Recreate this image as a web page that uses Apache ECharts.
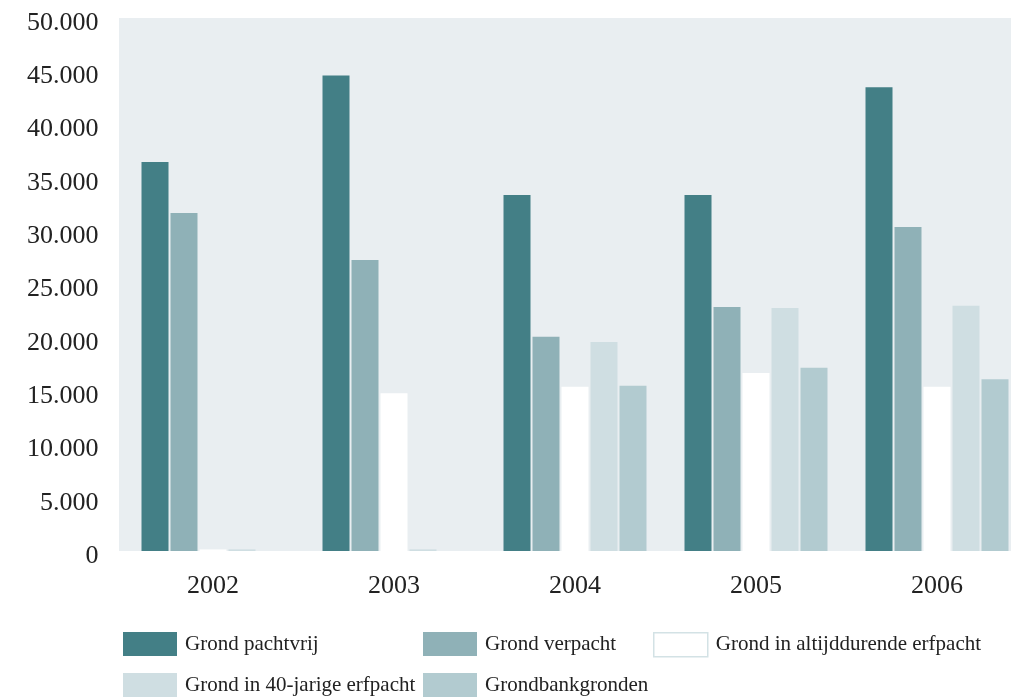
<!DOCTYPE html>
<html>
<head>
<meta charset="utf-8">
<script src="https://cdn.jsdelivr.net/npm/echarts@6/dist/echarts.min.js"></script>
<style>
  html, body { margin: 0; padding: 0; background: #ffffff; }
  #chart { width: 1011px; height: 698px; }
</style>
</head>
<body>
<div id="chart"></div>
<script>
// Jaren en grondcategorieën (hectare)
const years = ['2002', '2003', '2004', '2005', '2006'];
const seriesNames = [
  'Grond pachtvrij',
  'Grond verpacht',
  'Grond in altijddurende erfpacht',
  'Grond in 40-jarige erfpacht',
  'Grondbankgronden'
];
const pachtvrij     = [36500, 44600, 33400, 33400, 43500];
const verpacht      = [31700, 27300, 20100, 22900, 30400];
const altijddurend  = [150, 14800, 15400, 16700, 15400];
const veertigjarig  = [150, 150, 19600, 22800, 23000];
const grondbank     = [0, 0, 15500, 17200, 16100];

const yMin = 0, yMax = 50000, yStep = 5000;

const colors = ['#437f86', '#8fb1b7', '#ffffff', '#cfdee2', '#b2cbd0'];
const values = [pachtvrij, verpacht, altijddurend, veertigjarig, grondbank];

const font = '"Liberation Serif", "DejaVu Serif", serif';
const ink = '#222222';

const chart = echarts.init(document.getElementById('chart'), null, { renderer: 'canvas' });

const series = seriesNames.map((name, i) => ({
  name: name,
  type: 'bar',
  data: values[i],
  barWidth: 27,
  barGap: '7.4%',
  itemStyle: { color: colors[i] },
  emphasis: { disabled: true }
}));

const legendText = { fontFamily: font, fontSize: 21, color: ink, padding: [0, 0, 0, 3] };
function legendItem(i) {
  const item = { name: seriesNames[i] };
  if (i === 2) item.itemStyle = { color: '#ffffff', borderColor: '#d3e2e5', borderWidth: 1.5 };
  return item;
}
function legendColumn(left, idx) {
  return {
    orient: 'vertical',
    left: left,
    top: 632,
    padding: 0,
    itemWidth: 54,
    itemHeight: 24,
    itemGap: 17,
    icon: 'rect',
    selectedMode: false,
    textStyle: legendText,
    data: idx.map(legendItem)
  };
}

chart.setOption({
  animation: false,
  backgroundColor: '#ffffff',
  color: colors,
  graphic: [{
    type: 'rect',
    z: -10,
    silent: true,
    shape: { x: 119, y: 18, width: 892, height: 533 },
    style: { fill: '#e9eef1' }
  }],
  grid: {
    left: 122.5, width: 905, top: 18, bottom: 147,
    containLabel: false, outerBoundsMode: 'none'
  },
  xAxis: {
    type: 'category',
    data: years,
    axisLine: { show: false },
    axisTick: { show: false },
    axisLabel: { fontFamily: font, fontSize: 26, color: ink, margin: 22 }
  },
  yAxis: {
    type: 'value',
    min: yMin,
    max: yMax,
    interval: yStep,
    splitLine: { show: false },
    axisLine: { show: false },
    axisTick: { show: false },
    axisLabel: {
      fontFamily: font,
      fontSize: 26,
      color: ink,
      margin: 24,
      verticalAlign: 'top',
      lineHeight: 10,
      formatter: v => v === 0 ? '0' : (v / 1000).toFixed(0) + '.000'
    }
  },
  legend: [
    legendColumn(123, [0, 3]),
    legendColumn(423, [1, 4]),
    legendColumn(653, [2])
  ],
  series: series
});
</script>
</body>
</html>
